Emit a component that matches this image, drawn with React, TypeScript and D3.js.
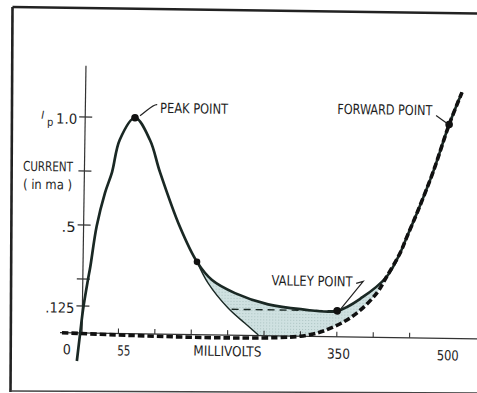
import React from 'react';
import * as d3 from 'd3';

const W = 477;
const H = 393;

// total diode current (solid curve), millivolts / milliamps
const totalMV = [-6.5, -2.5, 1, 7, 10, 18, 28.7, 38, 47.8, 68.4, 89.4, 103.8, 132.4, 156.5, 177.5, 209.3, 255, 300, 350, 385, 417, 435, 444, 459, 479, 500, 517];
const totalMA = [-0.13, 0, 0.11, 0.245, 0.306, 0.496, 0.65, 0.747, 0.896, 1.0, 0.898, 0.75, 0.497, 0.337, 0.254, 0.195, 0.145, 0.125, 0.12, 0.186, 0.28, 0.39, 0.465, 0.59, 0.77, 0.99, 1.14];
// tunnel current branch (thin lower boundary)
const tunnelMV = [156.5, 172.4, 200.4, 223.6, 242.2];
const tunnelMA = [0.337, 0.238, 0.124, 0.056, 0.003];
// diffusion (diode) current, thick dashed
const diodeMV = [-27.5, 300, 345, 377, 404, 417, 435, 444, 459, 479, 500, 517];
const diodeMA = [0, 0, 0.045, 0.111, 0.205, 0.28, 0.39, 0.465, 0.59, 0.77, 0.99, 1.14];
// marked points: peak, branch, valley, forward
const markerMV = [68.4, 156.5, 350, 500];
const markerMA = [1.0, 0.337, 0.12, 0.99];
// valley current dashed level
const valleyLineMV = [205, 350];

const yTickValues = [0.125, 0.25, 0.5, 0.75, 1.0];
const yTickLabels = ['.125', '', '.5', '', '1.0'];
const yTickLabelWidths = [29, 0, 14, 0, 21];
const xTickValues = [50, 100, 150, 200, 250, 300, 350, 400, 450];
const xLabelValues = [55, 350, 500];
const xLabelTexts = ['55', '350', '500'];
const xLabelWidths = [13, 23, 22];

const FONT = "'DejaVu Sans Condensed', 'Liberation Sans Narrow', 'Liberation Sans', sans-serif";
const INK = '#1a2824';
const TEXT = '#1e1e1e';

export default function App() {
  const x = d3.scaleLinear().domain([0, 500]).range([84, 448]);
  const y = d3.scaleLinear().domain([0, 1]).range([335.3, 119.3]);
  const zip = (a: number[], b: number[]) => a.map((v, i) => [v, b[i]] as [number, number]);
  const total = zip(totalMV, totalMA);
  const tunnel = zip(tunnelMV, tunnelMA);
  const diode = zip(diodeMV, diodeMA);
  const markers = zip(markerMV, markerMA);

  const line = d3
    .line<[number, number]>()
    .x((d) => x(d[0]))
    .y((d) => y(d[1]))
    .curve(d3.curveCatmullRom.alpha(0.5));

  const upper = total.filter((d) => d[0] >= 156.5 && d[0] <= 417);
  const lowerDiode = diode.filter((d) => d[0] >= 300 && d[0] < 417).reverse();
  const tunnelRev = tunnel.slice().reverse();
  const shadePts = [...upper, ...lowerDiode, ...tunnelRev];
  const shadePath = (line(shadePts) || '') + 'Z';

  const peak = markers[0];
  const valley = markers[2];
  const fwd = markers[3];
  const px = x(peak[0]), py = y(peak[1]);
  const vx = x(valley[0]), vy = y(valley[1]);
  const fx = x(fwd[0]), fy = y(fwd[1]);
  const x0 = x(0), yAxis0 = y(0);

  return (
    <svg width={W} height={H} style={{ position: 'absolute', left: 0, top: 0, background: '#fff' }}>
      <defs>
        <pattern id="stip" width="3" height="3" patternUnits="userSpaceOnUse">
          <circle cx="1.5" cy="1.5" r="0.55" fill="#557a76" />
        </pattern>
      </defs>
      {/* frame */}
      <path d="M12.5,7 L477,13.5" stroke="#222" strokeWidth={2.6} fill="none" />
      <path d="M12.5,7 L10.5,392" stroke="#222" strokeWidth={2.6} fill="none" />
      <path d="M10.5,391 L477,393" stroke="#444" strokeWidth={1.5} fill="none" />

      <g transform="rotate(0.85, 240, 200)">
        {/* shaded excess current region */}
        <path d={shadePath} fill="#cfe1e1" stroke="none" />
        <path d={shadePath} fill="url(#stip)" opacity={0.35} stroke="none" />

        {/* axes */}
        <line x1={x0} x2={x0} y1={68} y2={yAxis0} stroke="#333" strokeWidth={1.2} />
        <line x1={62} x2={495} y1={yAxis0} y2={yAxis0} stroke="#333" strokeWidth={1.3} />
        {yTickValues.map((v, i) => (
          <g key={'yt' + i}>
            <line x1={x0 - 6} x2={x0 + 7} y1={y(v)} y2={y(v)} stroke="#333" strokeWidth={1.1} />
            {yTickLabels[i] && (
              <text
                x={x0 - 8 - yTickLabelWidths[i]}
                y={y(v) + 7}
                fontFamily={FONT}
                fontSize={14}
                fill={TEXT}
                textLength={yTickLabelWidths[i]}
                lengthAdjust="spacingAndGlyphs"
              >
                {yTickLabels[i]}
              </text>
            )}
          </g>
        ))}
        {xTickValues.map((v, i) => (
          <line key={'xt' + i} x1={x(v)} x2={x(v)} y1={yAxis0 - 5} y2={yAxis0} stroke="#333" strokeWidth={1.1} />
        ))}
        {/* I_p */}
        <text x={40} y={121.8} fontFamily={FONT} fontSize={11} fontStyle="italic" fill={TEXT}>I</text>
        <text x={46} y={128.5} fontFamily={FONT} fontSize={11} fill={TEXT}>p</text>
        {/* y axis title */}
        <text x={22.5} y={174} fontFamily={FONT} fontSize={13.5} fill={TEXT} textLength={50} lengthAdjust="spacingAndGlyphs">CURRENT</text>
        <text x={22.8} y={192} fontFamily={FONT} fontSize={13.5} fill={TEXT} textLength={49} lengthAdjust="spacingAndGlyphs">( in ma )</text>
        {/* x labels */}
        <text x={x0 - 15} y={yAxis0 + 21.5} fontFamily={FONT} fontSize={14} fill={TEXT} textAnchor="middle">0</text>
        {xLabelValues.map((v, i) => (
          <text
            key={'xl' + i}
            x={x(v) + 2 - xLabelWidths[i] / 2}
            y={yAxis0 + 22}
            fontFamily={FONT}
            fontSize={14}
            fill={TEXT}
            textLength={xLabelWidths[i]}
            lengthAdjust="spacingAndGlyphs"
          >
            {xLabelTexts[i]}
          </text>
        ))}
        <text x={x(200) - 34} y={yAxis0 + 21} fontFamily={FONT} fontSize={14} fill={TEXT} textLength={68} lengthAdjust="spacingAndGlyphs">MILLIVOLTS</text>

        {/* curves */}
        <path d={line(tunnel) || ''} fill="none" stroke={INK} strokeWidth={1.4} />
        <line x1={x(valleyLineMV[0])} x2={x(valleyLineMV[1])} y1={vy} y2={vy} stroke={INK} strokeWidth={1.4} strokeDasharray="7 5" />
        <path d={line(total) || ''} fill="none" stroke={INK} strokeWidth={2.7} />
        <path d={line(diode) || ''} fill="none" stroke="#111" strokeWidth={3.6} strokeDasharray="6.5 3" />

        {markers.map((d, i) => (
          <circle key={'m' + i} cx={x(d[0])} cy={y(d[1])} r={i === 1 ? 3.3 : 3.8} fill="#111" />
        ))}

        {/* annotations */}
        <path
          d={`M${px + 22},${py - 13.4} C${px + 18},${py - 14} ${px + 13},${py - 8} ${px + 5},${py - 2}`}
          fill="none"
          stroke="#222"
          strokeWidth={1.2}
        />
        <text x={px + 25} y={py - 5.2} fontFamily={FONT} fontSize={14} fill={TEXT} textLength={68} lengthAdjust="spacingAndGlyphs">PEAK POINT</text>

        <path d={`M${fx - 13.2},${fy - 8.8} L${fx - 2},${fy - 1}`} fill="none" stroke="#222" strokeWidth={1.2} />
        <text x={fx - 112} y={fy - 9} fontFamily={FONT} fontSize={14} fill={TEXT} textLength={95} lengthAdjust="spacingAndGlyphs">FORWARD POINT</text>

        <path d={`M${vx + 18.6},${vy - 27.7} L${vx + 25.6},${vy - 29.8} L${vx + 4},${vy - 2.5}`} fill="none" stroke="#222" strokeWidth={1.2} />
        <text x={vx - 66} y={vy - 24.5} fontFamily={FONT} fontSize={14} fill={TEXT} textLength={81} lengthAdjust="spacingAndGlyphs">VALLEY POINT</text>
      </g>
    </svg>
  );
}
